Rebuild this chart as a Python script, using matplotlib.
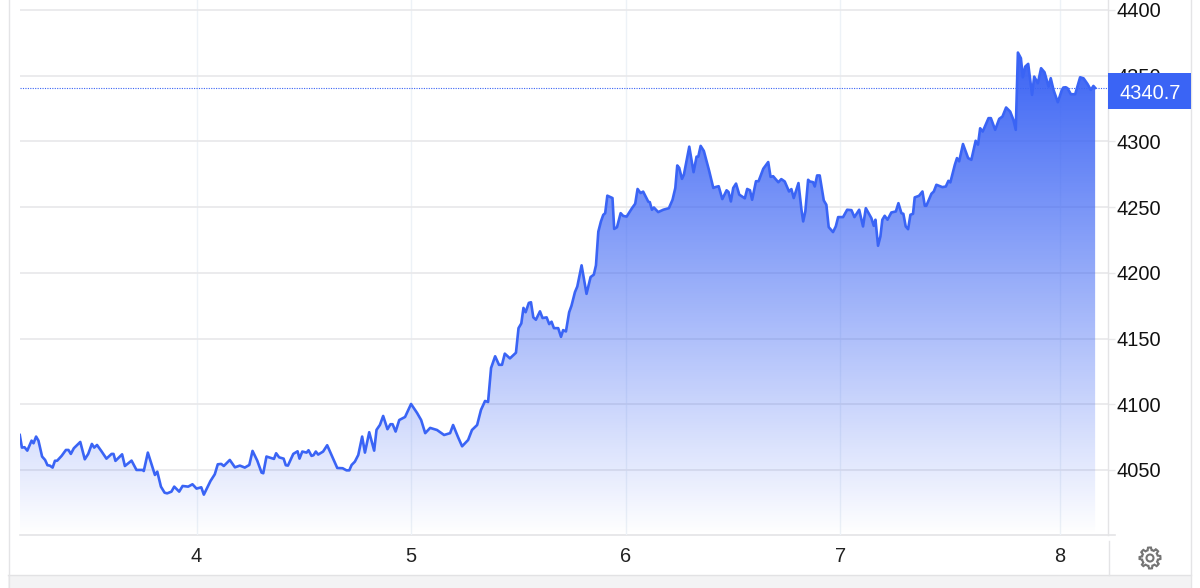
import numpy as np
import matplotlib.pyplot as plt
from matplotlib.colors import LinearSegmentedColormap
from matplotlib.patches import Rectangle, Polygon, Circle

plt.rcParams['font.family'] = ['Liberation Sans', 'DejaVu Sans']

# Day of month and price
days = [3.176, 3.186, 3.198, 3.211, 3.231, 3.24, 3.252, 3.263, 3.28, 3.294, 3.305, 3.316, 3.329, 3.34, 3.35,
        3.371, 3.391, 3.403, 3.414, 3.428, 3.458, 3.479, 3.495, 3.512, 3.523, 3.536, 3.557, 3.58, 3.604, 3.613,
        3.622, 3.653, 3.666, 3.697, 3.72, 3.748, 3.754, 3.773, 3.806, 3.817, 3.834, 3.851, 3.863, 3.883, 3.896,
        3.919, 3.935, 3.961, 3.981, 4.0, 4.022, 4.034, 4.065, 4.085, 4.099, 4.115, 4.127, 4.155, 4.179, 4.202,
        4.225, 4.246, 4.261, 4.283, 4.303, 4.311, 4.326, 4.361, 4.371, 4.385, 4.406, 4.416, 4.426, 4.451, 4.471,
        4.48, 4.493, 4.513, 4.522, 4.536, 4.545, 4.556, 4.567, 4.59, 4.609, 4.656, 4.681, 4.699, 4.712, 4.723,
        4.738, 4.754, 4.772, 4.785, 4.805, 4.828, 4.839, 4.855, 4.87, 4.89, 4.904, 4.914, 4.928, 4.945, 4.972,
        5.0, 5.028, 5.047, 5.066, 5.089, 5.121, 5.154, 5.182, 5.196, 5.219, 5.238, 5.266, 5.284, 5.308, 5.326,
        5.345, 5.359, 5.373, 5.392, 5.41, 5.424, 5.437, 5.461, 5.489, 5.501, 5.514, 5.524, 5.534, 5.549, 5.559,
        5.57, 5.582, 5.601, 5.613, 5.632, 5.644, 5.655, 5.666, 5.686, 5.699, 5.709, 5.722, 5.737, 5.748, 5.764,
        5.775, 5.795, 5.818, 5.837, 5.852, 5.862, 5.873, 5.885, 5.896, 5.905, 5.915, 5.939, 5.947, 5.96, 5.977,
        5.989, 6.005, 6.03, 6.045, 6.056, 6.07, 6.082, 6.106, 6.113, 6.123, 6.132, 6.152, 6.176, 6.202, 6.219,
        6.232, 6.241, 6.25, 6.263, 6.272, 6.297, 6.317, 6.331, 6.339, 6.35, 6.365, 6.39, 6.409, 6.42, 6.434,
        6.451, 6.471, 6.48, 6.491, 6.502, 6.515, 6.53, 6.556, 6.567, 6.58, 6.59, 6.608, 6.62, 6.642, 6.665,
        6.676, 6.688, 6.712, 6.726, 6.742, 6.762, 6.773, 6.784, 6.806, 6.82, 6.828, 6.838, 6.851, 6.859, 6.874,
        6.882, 6.893, 6.905, 6.924, 6.936, 6.947, 6.967, 6.98, 6.991, 7.014, 7.033, 7.053, 7.067, 7.089, 7.107,
        7.12, 7.146, 7.157, 7.165, 7.177, 7.188, 7.197, 7.208, 7.221, 7.239, 7.26, 7.272, 7.286, 7.295, 7.306,
        7.317, 7.328, 7.34, 7.348, 7.368, 7.384, 7.395, 7.402, 7.426, 7.437, 7.449, 7.477, 7.493, 7.505, 7.514,
        7.535, 7.545, 7.555, 7.573, 7.597, 7.612, 7.632, 7.643, 7.653, 7.665, 7.692, 7.703, 7.723, 7.742, 7.757,
        7.774, 7.793, 7.808, 7.819, 7.829, 7.843, 7.852, 7.863, 7.877, 7.895, 7.905, 7.922, 7.937, 7.953, 7.972,
        7.982, 7.995, 8.015, 8.034, 8.041, 8.052, 8.06, 8.076, 8.096, 8.119, 8.135, 8.153, 8.169, 8.181, 8.189]

prices = [4076.6, 4067, 4067.3, 4064.7, 4072.3, 4070.3, 4075.4, 4072.3, 4060.2, 4057.6, 4053.6, 4053.3, 4051.8, 4057, 4057,
          4060.7, 4065.2, 4065.2, 4062.2, 4066.5, 4071.3, 4058.1, 4062.2, 4069.8, 4067, 4069, 4064.2, 4058.6, 4062.2, 4062.2,
          4056.9, 4061.9, 4053, 4057.1, 4050, 4050, 4049.2, 4063.2, 4046.2, 4048.7, 4037.3, 4032.7, 4032.2, 4033.5, 4037.3,
          4033.5, 4037.8, 4037.3, 4039.1, 4035.8, 4036.8, 4031.2, 4041.6, 4046.7, 4054.3, 4054.6, 4053, 4057.6, 4052, 4053.3,
          4051.8, 4053.8, 4064.5, 4057.1, 4048, 4047.5, 4060.2, 4058.4, 4062.7, 4059.6, 4058.6, 4053.6, 4053.3, 4062.2, 4064.2,
          4058.6, 4064, 4063.2, 4065, 4060.7, 4061.2, 4064, 4061.7, 4064, 4068.8, 4051.5, 4051.3, 4049.7, 4049.7, 4053.8,
          4056.3, 4061.4, 4075.4, 4063.2, 4078.7, 4064.7, 4080.5, 4084.3, 4091.1, 4081, 4084.8, 4084.8, 4079.2, 4088, 4090.3,
          4100.2, 4093.4, 4088, 4078, 4082, 4080.4, 4076.6, 4078, 4084.2, 4075, 4068, 4072.8, 4080.4, 4084.2, 4095.7,
          4102.5, 4101.7, 4127.6, 4136.5, 4130, 4130, 4138.5, 4134.9, 4139.2, 4157.9, 4161.5, 4173.3, 4170, 4177.1, 4177.6,
          4166.1, 4164.3, 4170.7, 4165.6, 4166.1, 4161, 4162.8, 4157.9, 4157.9, 4151.3, 4156.4, 4155.4, 4170, 4175, 4185.3,
          4189.6, 4205.7, 4184, 4196.8, 4198.6, 4205.7, 4231.3, 4239, 4244.1, 4245.4, 4258.7, 4256.9, 4233.4, 4234.7, 4245.4,
          4243.3, 4242.8, 4249.2, 4252.6, 4263.8, 4260.7, 4261.8, 4254.1, 4253.8, 4248, 4249.7, 4246.2, 4248, 4249.2, 4255.6,
          4264.6, 4281.7, 4279.9, 4271.5, 4274.8, 4296, 4276.6, 4288.4, 4288.4, 4296.6, 4292.7, 4277.4, 4264.6, 4265.3, 4265.9,
          4256.1, 4262.8, 4261.5, 4254.3, 4264.6, 4267.9, 4259.5, 4256.7, 4263.8, 4262.8, 4255.6, 4269.7, 4269.7, 4279.2, 4284.3,
          4273, 4273.5, 4268.9, 4271.3, 4269.5, 4261.9, 4263.7, 4256.9, 4268.3, 4248, 4239.1, 4246.7, 4270.8, 4269.5, 4269,
          4265.7, 4274.1, 4274.1, 4255.1, 4251.8, 4234.8, 4231, 4235.3, 4242.4, 4242.4, 4248, 4247.7, 4242.4, 4248, 4235.3,
          4249.2, 4241.6, 4235.8, 4240.4, 4220.6, 4227.7, 4240.4, 4243.4, 4240.4, 4245.9, 4246.7, 4253, 4245.4, 4244.9, 4235.3,
          4233.2, 4244.2, 4244.9, 4257.4, 4258.6, 4261.9, 4251, 4251, 4260.2, 4261.9, 4267, 4265.2, 4265.7, 4270, 4268.8,
          4282.2, 4287.3, 4284.8, 4298, 4287.3, 4286, 4300.5, 4297.5, 4310, 4307.5, 4317.7, 4317.7, 4308.8, 4317.2, 4318.9,
          4325.8, 4322.7, 4316.4, 4308.8, 4367.6, 4363.3, 4348.8, 4356.9, 4359, 4335.4, 4349.3, 4344.3, 4355.7, 4352.6, 4341.7,
          4348.1, 4339.2, 4329.8, 4339.2, 4341, 4341.2, 4340.5, 4335.9, 4335.9, 4348.8, 4348, 4343.8, 4339.2, 4342.2, 4340.7]

y_ticks = [4050, 4100, 4150, 4200, 4250, 4300, 4350, 4400]
x_ticks = [4, 5, 6, 7, 8.023]
x_labels = ['4', '5', '6', '7', '8']

BLUE = '#3a64f5'
GRID = '#e8e8ea'

fig = plt.figure(figsize=(12, 5.88), dpi=100)

# page furniture, in pixels
bg = fig.add_axes([0, 0, 1, 1], zorder=0)
bg.set_xlim(0, 1200)
bg.set_ylim(588, 0)
bg.axis('off')
bg.add_patch(Rectangle((8, 575), 1183, 13, fc='#f3f3f4', ec='none'))
bg.plot([8, 1191], [575, 575], color='#e2e2e4', lw=1)
bg.plot([8.5, 8.5], [0, 588], color='#e4e4e6', lw=1)
bg.plot([1191, 1191], [0, 588], color='#e4e4e6', lw=1)
bg.plot([1108.5, 1108.5], [541, 575], color='#e4e4e6', lw=1)
bg.plot([20, 1115], [535, 535], color='#e4e4e6', lw=1.2)

# settings gear
angles = np.linspace(0, 2 * np.pi, 64, endpoint=False)
radius = np.where((angles * 8 / (2 * np.pi) + 0.25) % 1 < 0.5, 10.5, 8)
bg.add_patch(Polygon(np.c_[1150 + radius * np.cos(angles), 558 + radius * np.sin(angles)],
                     closed=True, fc='none', ec='#757575', lw=1.5))
bg.add_patch(Circle((1150, 558), 3.5, fc='none', ec='#757575', lw=1.5))

ax = fig.add_axes([20 / 1200, 1 - 535 / 588, 1088 / 1200, 535 / 588], zorder=1)
ax.patch.set_alpha(0)
ax.set_xlim(3.177, 8.249)
ax.set_ylim(4000.5, 4407.6)

for s in ['top', 'left', 'bottom']:
    ax.spines[s].set_visible(False)
ax.spines['right'].set_color('#e4e4e6')
ax.spines['right'].set_linewidth(1)

ax.yaxis.tick_right()
ax.set_yticks(y_ticks)
ax.set_xticks(x_ticks, x_labels)
ax.tick_params(axis='y', length=5, width=1, color=GRID, labelsize=14.4, labelcolor='#111111', pad=1)
ax.tick_params(axis='x', length=0, labelsize=14.4, labelcolor='#222222', pad=9)
ax.grid(axis='y', color=GRID, lw=1.2, zorder=0)
ax.grid(axis='x', color='#edf2f7', lw=1, zorder=0)
ax.set_axisbelow(True)

# gradient under the line, clipped to the area of the series
cmap = LinearSegmentedColormap.from_list('fade', [(0.23, 0.39, 0.96, 0.0), (0.23, 0.39, 0.96, 1.0)])
grad = np.linspace(1, 0, 256).reshape(-1, 1)
im = ax.imshow(grad, cmap=cmap, vmin=0, vmax=1, aspect='auto', zorder=1,
               extent=[days[0], days[-1], 4000.5, max(prices)], interpolation='bilinear')
area = ax.fill_between(days, prices, 4000.5, facecolor='none', edgecolor='none')
im.set_clip_path(area.get_paths()[0], ax.transData)
ax.set_xlim(3.177, 8.249)
ax.set_ylim(4000.5, 4407.6)

ax.plot(days, prices, color=BLUE, lw=1.9, solid_joinstyle='round', zorder=3)

# last price marker
last = prices[-1]
ax.axhline(last, color=BLUE, lw=0.8, ls=(0, (1, 1.2)), zorder=2)
trans = ax.get_yaxis_transform()
ax.add_patch(Rectangle((1.0, last - 16), 83 / 1088, 27.4, transform=trans, fc=BLUE, ec='none',
                       clip_on=False, zorder=10))
ax.text(1.0 + 42 / 1088, last - 4, f'{last:.1f}', transform=trans, color='white', fontsize=14.4,
        ha='center', va='center', zorder=11, clip_on=False)

fig.savefig('out.png', dpi=100)
